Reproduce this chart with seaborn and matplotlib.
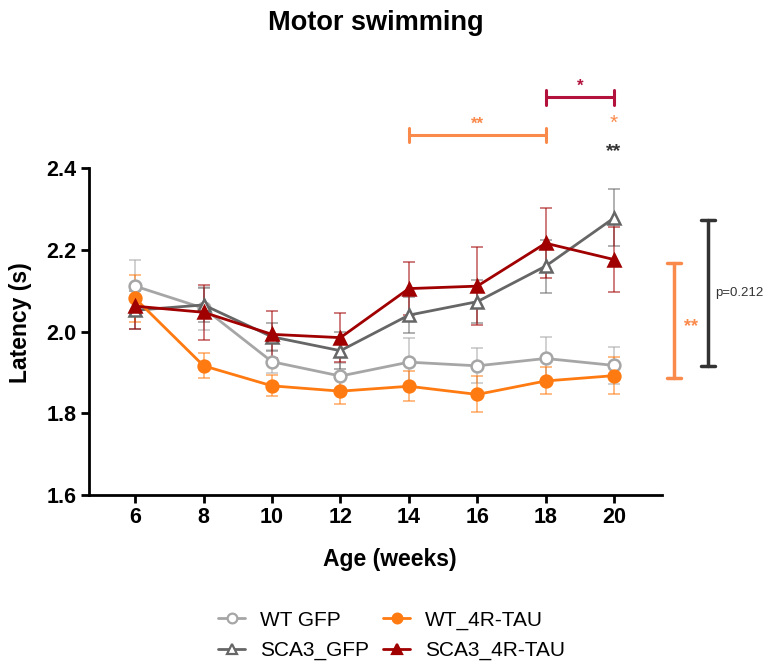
import numpy as np
import pandas as pd
import matplotlib
matplotlib.use('Agg')
import matplotlib.pyplot as plt
from matplotlib.lines import Line2D
import seaborn as sns

# ── DATA ────────────────────────────────────────────────────────────────────
weeks = [6, 8, 10, 12, 14, 16, 18, 20]

wt_gfp = [2.111, 2.057, 1.926, 1.891, 1.925, 1.916, 1.934, 1.917]
wt_gfp_sem = [0.064, 0.053, 0.028, 0.031, 0.058, 0.043, 0.053, 0.046]

sca3_gfp = [2.052, 2.065, 1.987, 1.953, 2.040, 2.073, 2.160, 2.278]
sca3_gfp_sem = [0.047, 0.041, 0.035, 0.045, 0.044, 0.052, 0.065, 0.070]

wt_tau = [2.081, 1.916, 1.867, 1.854, 1.866, 1.846, 1.879, 1.892]
wt_tau_sem = [0.057, 0.031, 0.026, 0.031, 0.037, 0.044, 0.033, 0.046]

sca3_tau = [2.062, 2.047, 1.993, 1.985, 2.105, 2.111, 2.216, 2.176]
sca3_tau_sem = [0.055, 0.068, 0.058, 0.060, 0.064, 0.096, 0.085, 0.080]

y_ticks = [1.6, 1.8, 2.0, 2.2, 2.4]

# ── STYLE ───────────────────────────────────────────────────────────────────
sns.set_style('white')
plt.rcParams['font.family'] = ['Liberation Sans', 'DejaVu Sans']
plt.rcParams['text.color'] = 'black'
plt.rcParams['axes.labelcolor'] = 'black'
plt.rcParams['xtick.color'] = 'black'
plt.rcParams['ytick.color'] = 'black'

C_WT_GFP = '#a6a6a6'
C_SCA3_GFP = '#666666'
C_WT_TAU = '#ff7a10'
C_SCA3_TAU = '#a00000'
C_SIG_RED = '#b3123c'
C_SIG_ORANGE = '#fa8a4c'
C_SIG_DARK = '#333333'

groups = [
    ('WT GFP', wt_gfp, wt_gfp_sem, C_WT_GFP, 'o', 'white'),
    ('SCA3_GFP', sca3_gfp, sca3_gfp_sem, C_SCA3_GFP, '^', 'white'),
    ('WT_4R-TAU', wt_tau, wt_tau_sem, C_WT_TAU, 'o', C_WT_TAU),
    ('SCA3_4R-TAU', sca3_tau, sca3_tau_sem, C_SCA3_TAU, '^', C_SCA3_TAU),
]

fig = plt.figure(figsize=(7.66, 6.66), dpi=100)
ax = fig.add_axes([0.1162, 0.2568, 0.748, 0.4909])

handles = []
for name, vals, sem, col, mk, face in groups:
    df = pd.DataFrame({'week': weeks, 'latency': vals})
    ax.errorbar(weeks, vals, yerr=sem, fmt='none', ecolor=col, alpha=0.6,
                elinewidth=1.2, capsize=4.5, capthick=1.2, zorder=2)
    sns.lineplot(data=df, x='week', y='latency', ax=ax, color=col, linewidth=2,
                 marker=mk, markersize=8.5, markerfacecolor=face,
                 markeredgecolor=col, markeredgewidth=1.8, zorder=3)
    handles.append(Line2D([0], [0], color=col, lw=2, marker=mk, markersize=7,
                          markerfacecolor=face, markeredgecolor=col, markeredgewidth=1.6,
                          label=name))

# ── AXES ────────────────────────────────────────────────────────────────────
ax.set_xlim(4.65, 21.4)
ax.set_ylim(1.6, 2.4)
ax.set_xticks(weeks)
ax.set_yticks(y_ticks)
ax.set_yticklabels([f'{v:.1f}' for v in y_ticks])
sns.despine(ax=ax)
for s in ('left', 'bottom'):
    ax.spines[s].set_linewidth(2)
    ax.spines[s].set_color('black')
ax.tick_params(axis='both', direction='out', length=6, width=2, color='black',
               labelsize=15.5, pad=3, left=True, bottom=True)
for lbl in ax.get_xticklabels() + ax.get_yticklabels():
    lbl.set_fontweight('bold')

ax.set_xlabel('Age (weeks)', fontsize=16.5, fontweight='bold', va='center')
ax.xaxis.set_label_coords(0.525, -0.196)
ax.set_ylabel('Latency (s)', fontsize=16.5, fontweight='bold', va='center')
ax.yaxis.set_label_coords(-0.12, 0.526)
fig.text(0.491, 0.966, 'Motor swimming', fontsize=19.5, fontweight='bold',
         ha='center', va='center')

# ── SIGNIFICANCE MARKS ──────────────────────────────────────────────────────
def hbracket(x0, x1, y, col, text, ty, fs=12):
    ax.plot([x0, x1], [y, y], color=col, lw=2.2, clip_on=False)
    for xx in (x0, x1):
        ax.plot([xx, xx], [y - 0.018, y + 0.018], color=col, lw=2.2, clip_on=False)
    ax.text((x0 + x1) / 2, ty, text, color=col, fontsize=fs, ha='center',
            va='center', fontweight='bold')

hbracket(18, 20, 2.573, C_SIG_RED, '*', 2.601)
hbracket(14, 18, 2.481, C_SIG_ORANGE, '**', 2.506)
ax.text(20, 2.51, '*', color=C_SIG_ORANGE, fontsize=15, ha='center', va='center')
ax.text(20, 2.440, '**', color=C_SIG_DARK, fontsize=14, ha='center', va='center',
        fontweight='bold')

def vbracket(x, y0, y1, col):
    ax.plot([x, x], [y0, y1], color=col, lw=2.5, clip_on=False)
    for yy in (y0, y1):
        ax.plot([x - 0.2, x + 0.2], [yy, yy], color=col, lw=2.5, clip_on=False)

vbracket(21.76, 1.885, 2.168, C_SIG_ORANGE)
ax.text(22.26, 2.013, '**', color=C_SIG_ORANGE, fontsize=13, ha='center',
        va='center', fontweight='bold')
vbracket(22.75, 1.916, 2.273, C_SIG_DARK)
ax.text(22.95, 2.094, 'p=0.212', color=C_SIG_DARK, fontsize=9.5, ha='left', va='center')

# ── LEGEND ──────────────────────────────────────────────────────────────────
fig.legend(handles=handles, loc='center', bbox_to_anchor=(0.511, 0.0458), ncol=2,
           frameon=False, fontsize=15, handlelength=1.3, columnspacing=0.7,
           handletextpad=0.7, labelspacing=0.55, borderpad=0)

fig.savefig('out.png', dpi=100)
